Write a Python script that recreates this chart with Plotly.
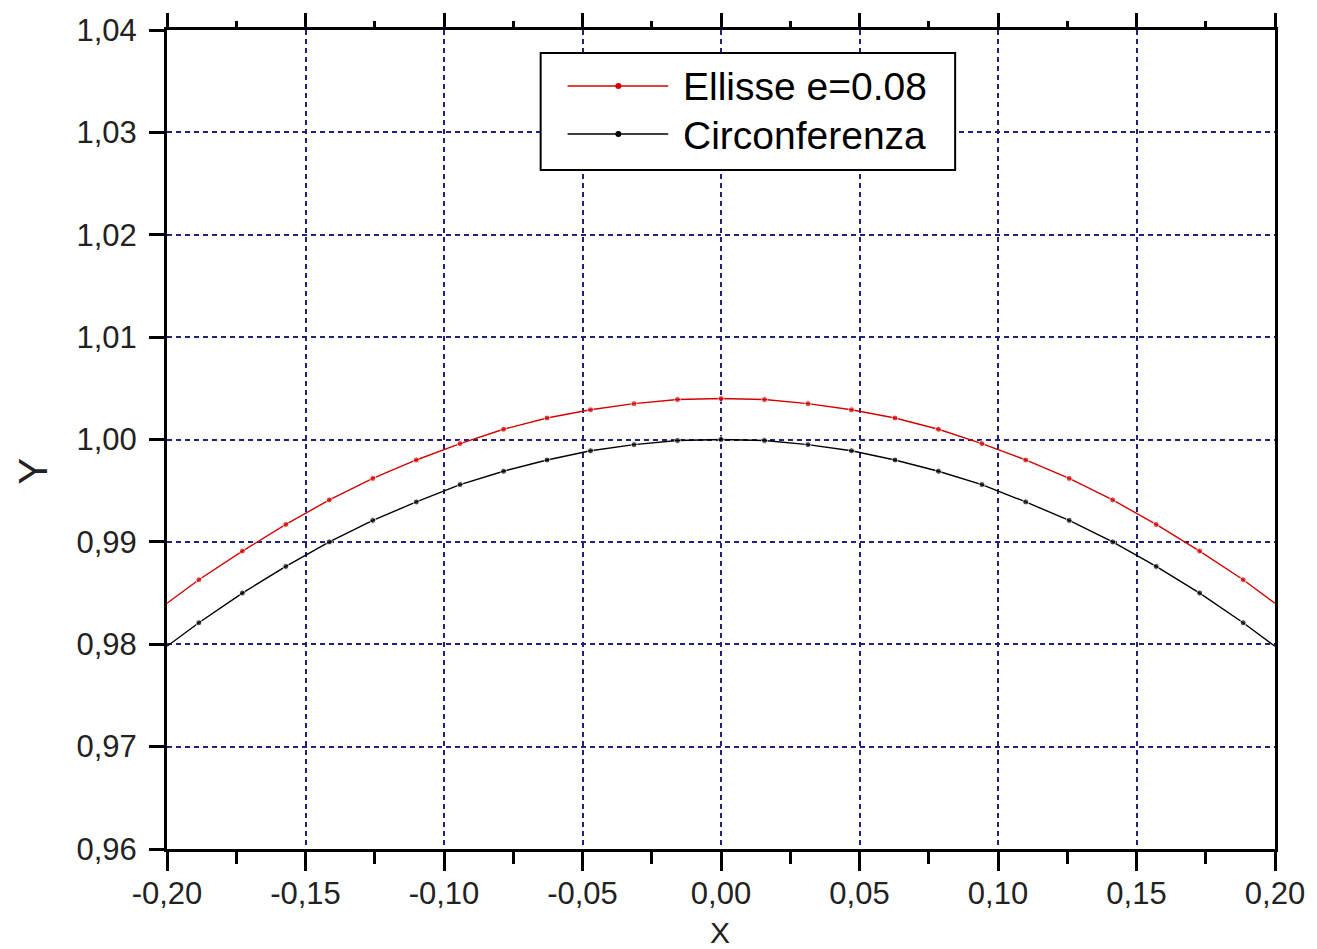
import plotly.graph_objects as go

# ---- data ----
x_vals = [-0.2000, -0.1885, -0.1728, -0.1571, -0.1414, -0.1257, -0.1100, -0.0942,
          -0.0785, -0.0628, -0.0471, -0.0314, -0.0157, 0.0000, 0.0157, 0.0314,
          0.0471, 0.0628, 0.0785, 0.0942, 0.1100, 0.1257, 0.1414, 0.1571,
          0.1728, 0.1885, 0.2000]
y_ellipse = [0.9840, 0.9863, 0.9891, 0.9917, 0.9941, 0.9962, 0.9980, 0.9996,
             1.0010, 1.0021, 1.0029, 1.0035, 1.0039, 1.0040, 1.0039, 1.0035,
             1.0029, 1.0021, 1.0010, 0.9996, 0.9980, 0.9962, 0.9941, 0.9917,
             0.9891, 0.9863, 0.9840]
y_circle = [0.9798, 0.9821, 0.9850, 0.9876, 0.9900, 0.9921, 0.9939, 0.9956,
            0.9969, 0.9980, 0.9989, 0.9995, 0.9999, 1.0000, 0.9999, 0.9995,
            0.9989, 0.9980, 0.9969, 0.9956, 0.9939, 0.9921, 0.9900, 0.9876,
            0.9850, 0.9821, 0.9798]
series_names = ["Ellisse e=0.08", "Circonferenza"]
series_colors = ["#d40000", "#000000"]

x_tick_vals = [-0.20, -0.15, -0.10, -0.05, 0.00, 0.05, 0.10, 0.15, 0.20]
x_tick_labels = ["-0,20", "-0,15", "-0,10", "-0,05", "0,00", "0,05", "0,10", "0,15", "0,20"]
y_tick_vals = [0.96, 0.97, 0.98, 0.99, 1.00, 1.01, 1.02, 1.03, 1.04]
y_tick_labels = ["0,96", "0,97", "0,98", "0,99", "1,00", "1,01", "1,02", "1,03", "1,04"]

FONT = "Liberation Sans, Arial, sans-serif"
GRID = "#22227c"
TXT = "#222222"
W, H = 1317, 949
ML, MR, MT, MB = 167, 38, 30, 100
PW, PH = W - ML - MR, H - MT - MB


def px(xp):
    return (xp - ML) / PW


def py(yp):
    return (H - MB - yp) / PH


marker_sizes = [0] + [6] * (len(x_vals) - 2) + [0]

fig = go.Figure()
for name, ys, col in zip(series_names, [y_ellipse, y_circle], series_colors):
    fig.add_trace(go.Scatter(
        x=x_vals, y=ys, name=name, mode="lines+markers",
        line=dict(color=col, width=1.4),
        marker=dict(color=col, size=marker_sizes, symbol="circle"),
        showlegend=False,
    ))
# invisible trace to activate top axis
fig.add_trace(go.Scatter(x=[x_vals[0], x_vals[-1]], y=[y_circle[0], y_circle[-1]],
                         xaxis="x2", mode="markers", marker=dict(opacity=0),
                         showlegend=False, hoverinfo="skip"))

common_x = dict(range=[-0.2, 0.2], tickvals=x_tick_vals, zeroline=False)
fig.update_layout(
    width=W, height=H,
    margin=dict(l=ML, r=MR, t=MT, b=MB),
    paper_bgcolor="white", plot_bgcolor="white",
    font=dict(family=FONT, color=TXT),
    xaxis=dict(
        **common_x, ticktext=x_tick_labels,
        ticks="outside", ticklen=19, tickwidth=3, tickcolor="black",
        ticklabelstandoff=-4,
        tickfont=dict(size=31, family=FONT, color=TXT),
        showline=True, linewidth=3, linecolor="black", mirror=True,
        showgrid=True, gridcolor=GRID, gridwidth=1.5, griddash="5px,4px",
        minor=dict(ticks="outside", ticklen=12, tickwidth=3, tickcolor="black",
                   dtick=0.025, tick0=0, showgrid=False),
    ),
    xaxis2=dict(
        **common_x, overlaying="x", side="top", showticklabels=False,
        ticks="outside", ticklen=16, tickwidth=3, tickcolor="black",
        showline=False, showgrid=False,
        minor=dict(ticks="outside", ticklen=8, tickwidth=3, tickcolor="black",
                   dtick=0.025, tick0=0, showgrid=False),
    ),
    yaxis=dict(
        range=[0.96, 1.04], tickvals=y_tick_vals, ticktext=y_tick_labels,
        ticks="outside", ticklen=15, tickwidth=2.5, tickcolor="black",
        ticklabelstandoff=6,
        tickfont=dict(size=31, family=FONT, color=TXT),
        showline=True, linewidth=3, linecolor="black", mirror=True,
        showgrid=True, gridcolor=GRID, gridwidth=1.5, griddash="5px,4px",
        zeroline=False,
    ),
)

# axis titles
fig.add_annotation(text="X", xref="paper", yref="paper", x=px(722), y=py(950),
                   xanchor="center", yanchor="bottom", showarrow=False,
                   borderpad=0,
                   font=dict(size=30, family=FONT, color=TXT))
fig.add_annotation(text="Y", xref="paper", yref="paper", x=px(33), y=py(471),
                   xanchor="center", yanchor="middle", showarrow=False, textangle=-90,
                   font=dict(size=40, family=FONT, color=TXT))

# manual legend
fig.add_shape(type="rect", xref="paper", yref="paper",
              x0=px(542), x1=px(958), y0=py(170), y1=py(53),
              line=dict(color="black", width=2), fillcolor="white", layer="above")
for i, (name, col) in enumerate(zip(series_names, series_colors)):
    ly = 86 + 48 * i
    fig.add_shape(type="line", xref="paper", yref="paper",
                  x0=px(569), x1=px(670), y0=py(ly), y1=py(ly),
                  line=dict(color=col, width=1.5), layer="above")
    fig.add_shape(type="circle", xref="paper", yref="paper",
                  xsizemode="pixel", ysizemode="pixel",
                  xanchor=px(620), yanchor=py(ly), x0=-3, x1=3, y0=-3, y1=3,
                  line=dict(color=col, width=0), fillcolor=col, layer="above")
    fig.add_annotation(text=name, xref="paper", yref="paper", x=px(683), y=py(ly + 1),
                       xanchor="left", yanchor="middle", showarrow=False,
                       font=dict(size=39, family=FONT, color="black"))

fig.write_html("out.html", config={"displayModeBar": False},
               post_script="document.body.style.margin='0';")
